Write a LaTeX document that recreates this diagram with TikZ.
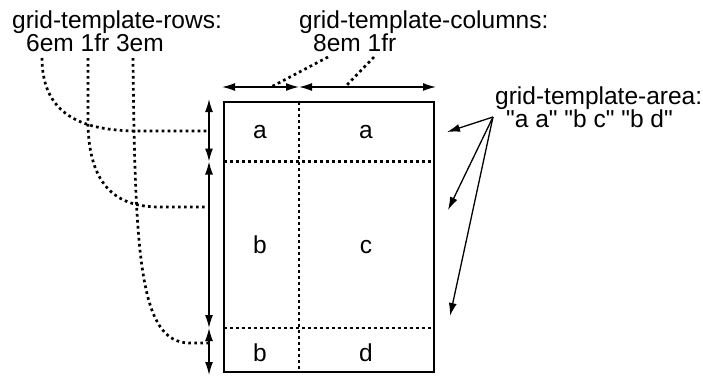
\documentclass[tikz,border=0pt]{standalone}
\usepackage{fontspec}
\setmainfont{Liberation Sans}[Ligatures=TeXOff]
\usetikzlibrary{arrows.meta}
\begin{document}
\begin{tikzpicture}[x=1pt,y=-1pt,
  lbl/.style={anchor=base west,inner sep=0pt,font=\fontsize{24.5}{28}\selectfont},
  cell/.style={anchor=base,inner sep=0pt,font=\fontsize{24.5}{28}\selectfont},
  solidline/.style={line width=1.3pt},
  dim/.style={line width=1.3pt,{Latex[length=13pt,width=8pt]}-{Latex[length=13pt,width=8pt]}},
  ptr/.style={line width=1.3pt,-{Latex[length=13pt,width=8pt]}},
  dots/.style={line width=2.7pt,dash pattern=on 2.7pt off 3.3pt}]
\useasboundingbox (0,0) rectangle (703,376);
% texts
\node[lbl] (rowsT) at (12,28) {grid-template-rows:};
\node[lbl] (rowsV) at (26,51) {6em 1fr 3em};
\node[lbl] (colsT) at (299,28) {grid-template-columns:};
\node[lbl] (colsV) at (313,51) {8em 1fr};
\node[lbl] (areaT) at (495,104) {grid-template-area:};
\node[lbl] (areaV) at (506,127) {"a a" "b c" "b d"};
% box
\coordinate (tl) at (224,102);
\coordinate (br) at (434,372);
\draw[solidline] (tl) rectangle (br);
\coordinate (vtop) at (299,102);
\coordinate (vbot) at (299,372);
\coordinate (h1l) at (224,161.5);
\coordinate (h1r) at (434,161.5);
\coordinate (h2l) at (224,328);
\coordinate (h2r) at (434,328);
\draw[dots] (vtop) -- (vbot);
\draw[dots] (h1l) -- (h1r);
\draw[dots] (h2l) -- (h2r);
% cells
\node[cell] (ca1) at (260,138) {a};
\node[cell] (ca2) at (366,138) {a};
\node[cell] (cb1) at (260,253) {b};
\node[cell] (cc) at (366,253) {c};
\node[cell] (cb2) at (260,361) {b};
\node[cell] (cd) at (366,361) {d};
% horizontal dims
\coordinate (hx0) at (222,87);
\coordinate (hx1) at (299,87);
\coordinate (hx2) at (436,87);
\draw[dim] (hx0) -- (hx1);
\draw[dim] (hx1) -- (hx2);
% vertical dims
\coordinate (vy0) at (209,99);
\coordinate (vy1) at (209,161.5);
\coordinate (vy2) at (209,328);
\coordinate (vy3) at (209,375);
\draw[dim] (vy0) -- (vy1);
\draw[dim] (vy1) -- (vy2);
\draw[dim] (vy2) -- (vy3);
% row curves
\coordinate (r1s) at (42,58);
\coordinate (r1e) at (208,131);
\coordinate (r2s) at (88,58);
\coordinate (r2e) at (208,207);
\coordinate (r3s) at (133,58);
\coordinate (r3e) at (208,343);
\draw[dots] (r1s) .. controls (42,120) and (90,131) .. (140,131) -- (r1e);
\draw[dots] (r2s) -- (88,120) .. controls (88,190) and (120,207) .. (160,207) -- (r2e);
\draw[dots] (r3s) .. controls (135,260) and (140,343) .. (190,343) -- (r3e);
% column pointers
\coordinate (c1s) at (328,57);
\coordinate (c1e) at (271,87);
\coordinate (c2s) at (374,57);
\coordinate (c2e) at (345,87);
\draw[dots] (c1s) -- (c1e);
\draw[dots] (c2s) -- (c2e);
% area arrows
\coordinate (ao) at (493,117);
\coordinate (a1) at (447,132);
\coordinate (a2) at (448,210);
\coordinate (a3) at (450,316);
\draw[ptr] (ao) -- (a1);
\draw[ptr] (ao) -- (a2);
\draw[ptr] (ao) -- (a3);
\end{tikzpicture}
\end{document}
